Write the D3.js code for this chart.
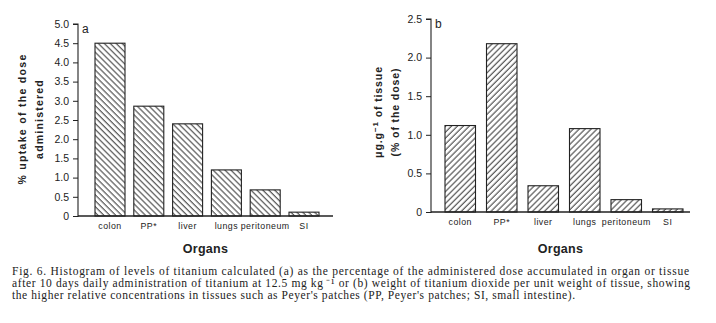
<!DOCTYPE html>
<html><head><meta charset="utf-8">
<script src="https://cdn.jsdelivr.net/npm/d3@7"></script>
<style>
body{margin:0;background:#fff;}
svg text{fill:#222;}
</style></head>
<body><svg id="c" width="716" height="323"></svg>
<script>
const categories = ["colon","PP*","liver","lungs","peritoneum","SI"];
const valuesA = [4.5, 2.86, 2.40, 1.20, 0.68, 0.10];
const valuesB = [1.12, 2.18, 0.34, 1.08, 0.16, 0.04];
const ticksA = [0,0.5,1.0,1.5,2.0,2.5,3.0,3.5,4.0,4.5,5.0];
const ticksB = [0,0.5,1.0,1.5,2.0,2.5];
const captionLines = [
 "Fig. 6. Histogram of levels of titanium calculated (a) as the percentage of the administered dose accumulated in organ or tissue",
 "after 10 days daily administration of titanium at 12.5 mg kg\u2009\u207B\u00B9 or (b) weight of titanium dioxide per unit weight of tissue, showing",
 "the higher relative concentrations in tissues such as Peyer's patches (PP, Peyer's patches; SI, small intestine)."
];
const captionWidths = [677, 678, 563];

const svg = d3.select("#c");
const defs = svg.append("defs");
function hatch(id, angle){
  const p = defs.append("pattern").attr("id", id).attr("patternUnits","userSpaceOnUse")
    .attr("width",4.2).attr("height",10).attr("patternTransform",`rotate(${angle})`);
  p.append("line").attr("x1",1).attr("x2",1).attr("y1",0).attr("y2",10)
    .attr("stroke","#333").attr("stroke-width",1);
}
hatch("hA",-45); hatch("hB",45);

function panel(cfg){
  const g = svg.append("g");
  const y = d3.scaleLinear().domain([0, cfg.max]).range([cfg.y0, cfg.y1]);
  const x = d3.scaleBand().domain(categories).range(cfg.xr).paddingInner(cfg.pad).paddingOuter(cfg.pad/2);
  g.selectAll("rect.bar").data(cfg.values).join("rect").attr("class","bar")
    .attr("x",(d,i)=>x(categories[i])).attr("width",x.bandwidth())
    .attr("y",d=>y(d)).attr("height",d=>cfg.y0-y(d))
    .attr("fill",`url(#${cfg.pat})`).attr("stroke","#222").attr("stroke-width",1.1);
  const ya = d3.axisLeft(y).tickValues(cfg.ticks).tickSize(5).tickPadding(4)
     .tickFormat(d=> d===0 ? "0" : d3.format(".1f")(d));
  const yg = g.append("g").attr("transform",`translate(${cfg.ax},0)`).call(ya);
  yg.select(".domain").attr("stroke","#222").attr("stroke-width",1.1).attr("d",`M-5,${cfg.y1}H0V${cfg.y0+1}`);
  yg.selectAll(".tick line").attr("stroke","#222");
  yg.selectAll("text").attr("font-family","Liberation Sans, Arial, sans-serif").attr("font-size",10.5).attr("fill","#222");
  g.append("line").attr("x1",cfg.ax).attr("x2",cfg.axEnd).attr("y1",cfg.y0).attr("y2",cfg.y0)
    .attr("stroke","#222").attr("stroke-width",1.3);
  g.selectAll("text.cat").data(categories).join("text").attr("class","cat")
    .attr("x",d=>x(d)+x.bandwidth()/2).attr("y",cfg.catY).attr("text-anchor","middle")
    .attr("font-family","Liberation Sans, Arial, sans-serif").attr("font-size",8.8).attr("letter-spacing",0.5)
    .text(d=>d);
  g.append("text").attr("x",(cfg.ax+cfg.axEnd)/2).attr("y",cfg.titleY).attr("text-anchor","middle")
    .attr("font-family","Liberation Sans, Arial, sans-serif").attr("font-size",12.5).attr("font-weight","bold")
    .attr("letter-spacing",0.3).text("Organs");
  g.append("text").attr("x",cfg.ax+4).attr("y",cfg.y1+9).attr("font-family","Liberation Sans, Arial, sans-serif")
    .attr("font-size",12).text(cfg.letter);
  cfg.ytitle.forEach((t,i)=>{
    g.append("text").attr("transform",`translate(${t.x},${cfg.ycenter}) rotate(-90)`)
      .attr("text-anchor","middle").attr("font-family","Liberation Sans, Arial, sans-serif")
      .attr("font-size",10.5).attr("font-weight","bold").attr("letter-spacing",t.ls)
      .html(t.html);
  });
}

panel({values:valuesA, ticks:ticksA, max:5, y0:216, y1:24, ax:78, axEnd:333,
  xr:[90.6,323.4], pad:0.227, pat:"hA", catY:229, titleY:253, letter:"a", ycenter:119,
  ytitle:[{x:26, ls:1.3, html:"% uptake of the dose"},{x:43, ls:1.2, html:"administered"}]});
panel({values:valuesB, ticks:ticksB, max:2.5, y0:212, y1:19, ax:431, axEnd:690,
  xr:[439.5,688.5], pad:0.265, pat:"hB", catY:225, titleY:253, letter:"b", ycenter:112,
  ytitle:[{x:382, ls:0.9, html:"μg.g<tspan dy='-4' font-size='8'>−1</tspan><tspan dy='4'> of tissue</tspan>"},{x:399, ls:0.9, html:"(% of the dose)"}]});

const cap = svg.append("g");
captionLines.forEach((l,i)=>{
  cap.append("text").attr("x",12).attr("y",275+i*11.8)
    .attr("font-family","Liberation Serif, Times New Roman, serif").attr("font-size",11.5)
    .attr("textLength",captionWidths[i]).attr("lengthAdjust","spacing").text(l);
});
</script></body></html>
